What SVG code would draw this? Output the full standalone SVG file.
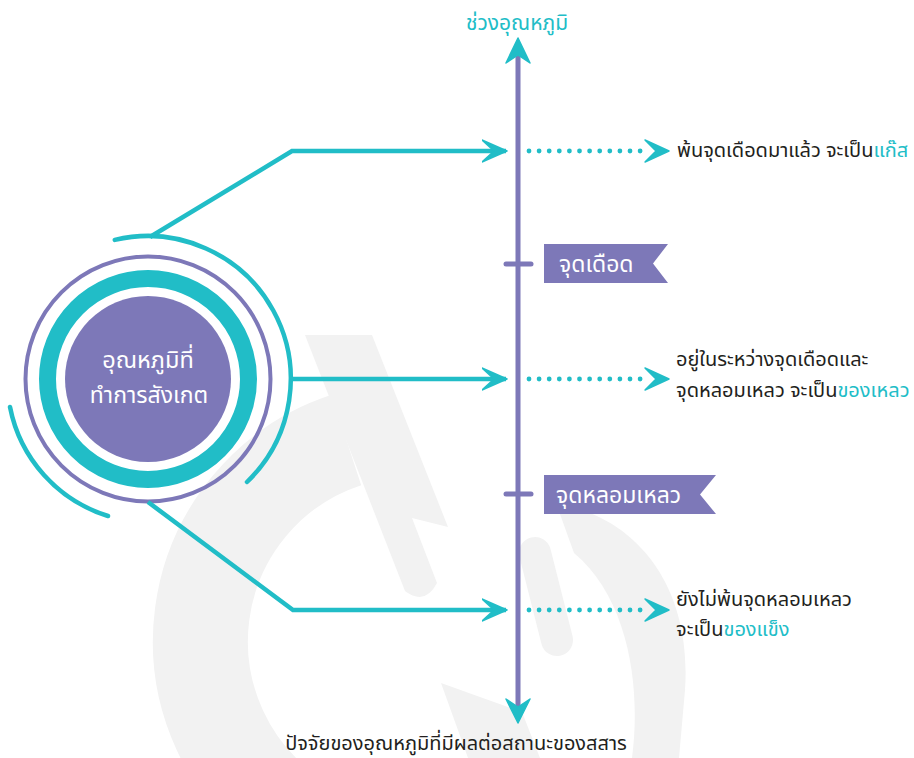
<svg xmlns="http://www.w3.org/2000/svg" width="914" height="758" viewBox="0 0 914 758">
<style>
.t{font-family:"Noto Sans Thai","Noto Sans","DejaVu Sans",sans-serif;}
.dark{fill:#231f20;font-size:20px;}
.teal{fill:#21bdc7;}
.wt{fill:#ffffff;}
.conn{fill:none;stroke:#21bdc7;stroke-width:4.5;stroke-linejoin:miter;}
.dots{fill:none;stroke:#21bdc7;stroke-width:4.8;stroke-linecap:round;stroke-dasharray:0 10.1;}
.wm{fill:#f2f2f2;}
</style>
<defs>
<marker id="ah" viewBox="0 0 26 24" refX="24" refY="12" markerWidth="26" markerHeight="24" markerUnits="userSpaceOnUse" orient="auto">
<path d="M0,1 L25,12 L0,23 L12,12 Z" fill="#21bdc7" stroke="#21bdc7" stroke-width="1.5" stroke-linejoin="round"/>
</marker>
</defs>
<rect width="914" height="758" fill="#ffffff"/>
<g id="watermark">
<path d="M346.4,440 A212,212 0 0 0 296.5,819" fill="none" stroke="#f2f2f2" stroke-width="95"/>
<path class="wm" d="M305,335 L372,335 L448,527 L412,518 L437,583 Q425,606 405,591 Z"/>
<path class="wm" d="M556,503 C640,518 692,590 685,690 L679,758 L632,758 C641,690 630,600 574,553 Z"/>
<path d="M535,553 L557,640" fill="none" stroke="#f2f2f2" stroke-width="32" stroke-linecap="round"/>
<path class="wm" d="M441,683 L522,712 L540,758 L468,758 Z"/>
</g>
<g id="center-node">
<path d="M114.8,239.9 A143,143 0 0 1 247,482" fill="none" stroke="#21bdc7" stroke-width="4.5" stroke-linecap="round"/>
<path d="M10,407 A143,143 0 0 0 108,516" fill="none" stroke="#21bdc7" stroke-width="4.5" stroke-linecap="round"/>
<circle cx="148" cy="379" r="122.5" fill="none" stroke="#7d78b8" stroke-width="4"/>
<circle cx="148" cy="379" r="100.5" fill="none" stroke="#21bdc7" stroke-width="17"/>
<circle cx="148" cy="379" r="83" fill="#7d78b8"/>
<text class="t wt" x="148" y="368" font-size="23.5" text-anchor="middle">อุณหภูมิที่</text>
<text class="t wt" x="149" y="403" font-size="23" text-anchor="middle">ทำการสังเกต</text>
</g>
<g id="connectors">
<path class="conn" d="M150,237 L292,151 L506,151" marker-end="url(#ah)"/>
<path class="conn" d="M291,379 L506,379" marker-end="url(#ah)"/>
<path class="conn" d="M148,502 L293,610 L506,610" marker-end="url(#ah)"/>
<path class="dots" d="M529,151 L641,151"/>
<path class="dots" d="M529,379 L641,379"/>
<path class="dots" d="M529,610 L641,610"/>
<path d="M645,140 L669,151 L645,162 L656,151 Z" fill="#21bdc7" stroke="#21bdc7" stroke-width="1.5" stroke-linejoin="round"/>
<path d="M645,368 L669,379 L645,390 L656,379 Z" fill="#21bdc7" stroke="#21bdc7" stroke-width="1.5" stroke-linejoin="round"/>
<path d="M645,599 L669,610 L645,621 L656,610 Z" fill="#21bdc7" stroke="#21bdc7" stroke-width="1.5" stroke-linejoin="round"/>
</g>
<g id="axis">
<line x1="518" y1="56" x2="518" y2="708" stroke="#7d78b8" stroke-width="5"/>
<path d="M518,38 L530,63 L518,55 L506,63 Z" fill="#21bdc7" stroke="#21bdc7" stroke-width="1.5" stroke-linejoin="round"/>
<path d="M518,723 L530,699 L518,707 L506,699 Z" fill="#21bdc7" stroke="#21bdc7" stroke-width="1.5" stroke-linejoin="round"/>
<line x1="506" y1="264" x2="531" y2="264" stroke="#7d78b8" stroke-width="5" stroke-linecap="round"/>
<line x1="506" y1="494" x2="531" y2="494" stroke="#7d78b8" stroke-width="5" stroke-linecap="round"/>
<text class="t teal" x="517" y="30" font-size="21" text-anchor="middle">ช่วงอุณหภูมิ</text>
<text class="t dark" x="456" y="750" text-anchor="middle">ปัจจัยของอุณหภูมิที่มีผลต่อสถานะของสสาร</text>
</g>
<g id="flag-boiling">
<path d="M544,244 L668,244 L653,263.5 L668,283 L544,283 Z" fill="#7d78b8"/>
<text class="t wt" x="559" y="272" font-size="23">จุดเดือด</text>
</g>
<g id="flag-melting">
<path d="M544,475 L716,475 L700,494.5 L716,514 L544,514 Z" fill="#7d78b8"/>
<text class="t wt" x="556" y="503" font-size="23">จุดหลอมเหลว</text>
</g>
<g id="gas">
<text class="t dark" x="677" y="157">พ้นจุดเดือดมาแล้ว จะเป็น<tspan class="teal">แก๊ส</tspan></text>
</g>
<g id="liquid">
<text class="t dark" x="676" y="366">อยู่ในระหว่างจุดเดือดและ</text>
<text class="t dark" x="676" y="397">จุดหลอมเหลว จะเป็น<tspan class="teal">ของเหลว</tspan></text>
</g>
<g id="solid">
<text class="t dark" x="676" y="606">ยังไม่พ้นจุดหลอมเหลว</text>
<text class="t dark" x="676" y="636">จะเป็น<tspan class="teal">ของแข็ง</tspan></text>
</g>
</svg>
